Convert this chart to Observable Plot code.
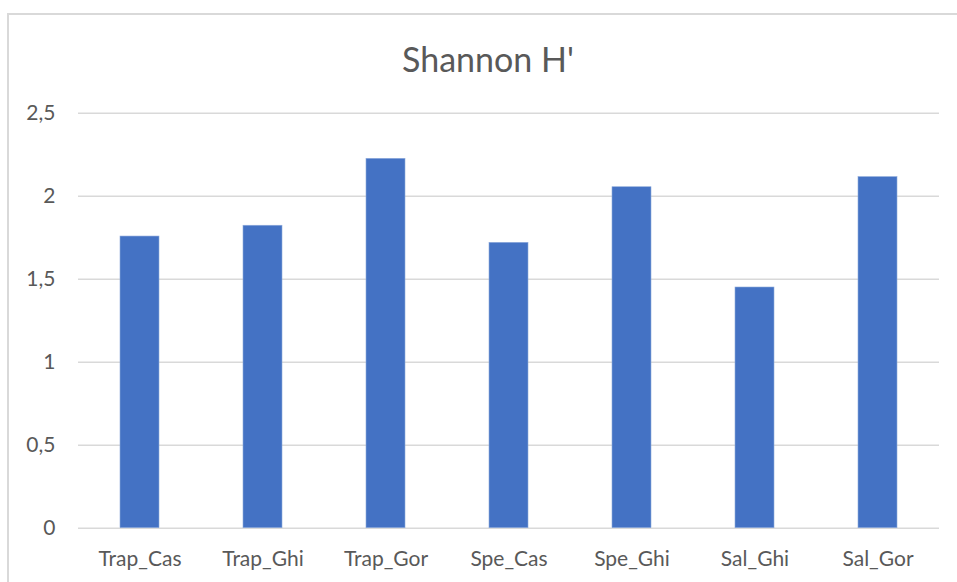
<!DOCTYPE html>
<html>
<head>
<meta charset="utf-8">
<script src="https://cdn.jsdelivr.net/npm/d3@7"></script>
<script src="https://cdn.jsdelivr.net/npm/@observablehq/plot@0.6"></script>
<style>
  html, body { margin: 0; padding: 0; background: #fff; overflow: hidden; }
  #wrap { position: relative; width: 957px; height: 582px; overflow: hidden; }
  #frame { position: absolute; left: 7px; top: 13px; width: 1100px; height: 700px;
           border: 2px solid #d9d9d9; box-sizing: border-box; pointer-events: none; }
  #title { position: absolute; left: 19px; right: 0; top: 38px; text-align: center;
           font-family: Lato, "Open Sans", sans-serif; font-size: 34px; color: #595959; font-weight: 400; }
  #chart { position: absolute; left: 0; top: 90px; }
</style>
</head>
<body>
<div id="wrap">
  <div id="frame"></div>
  <div id="title">Shannon H'</div>
  <div id="chart"></div>
</div>
<script>
const categories = ["Trap_Cas", "Trap_Ghi", "Trap_Gor", "Spe_Cas", "Spe_Ghi", "Sal_Ghi", "Sal_Gor"];
const values = [1.757, 1.822, 2.225, 1.719, 2.054, 1.45, 2.115];
const yTicks = [0, 0.5, 1, 1.5, 2, 2.5];

const data = categories.map((c, i) => ({category: c, value: values[i]}));
const fmt = d => String(d).replace(".", ",");

const chart = Plot.plot({
  width: 957,
  height: 492,
  marginLeft: 78,
  marginRight: 18,
  marginTop: 22.7,
  marginBottom: 54.3,
  style: {fontFamily: "Lato, 'Open Sans', sans-serif", fontSize: "21px", color: "#595959", background: "transparent"},
  x: {domain: categories, paddingInner: 0.683, paddingOuter: 0.3415, label: null},
  y: {domain: [0, 2.5], label: null},
  marks: [
    Plot.gridY(yTicks, {stroke: "#d9d9d9", strokeOpacity: 1, strokeWidth: 1.5}),
    Plot.axisY({ticks: yTicks, tickFormat: fmt, tickSize: 0, tickPadding: 23, label: null, fontSize: 21}),
    Plot.axisX({tickSize: 0, tickPadding: 23, label: null, fontSize: 21}),
    Plot.barY(data, {x: "category", y: "value", fill: "#4472C4", stroke: "#8eaadb", strokeWidth: 0.6})
  ]
});
document.getElementById("chart").appendChild(chart);
</script>
</body>
</html>
